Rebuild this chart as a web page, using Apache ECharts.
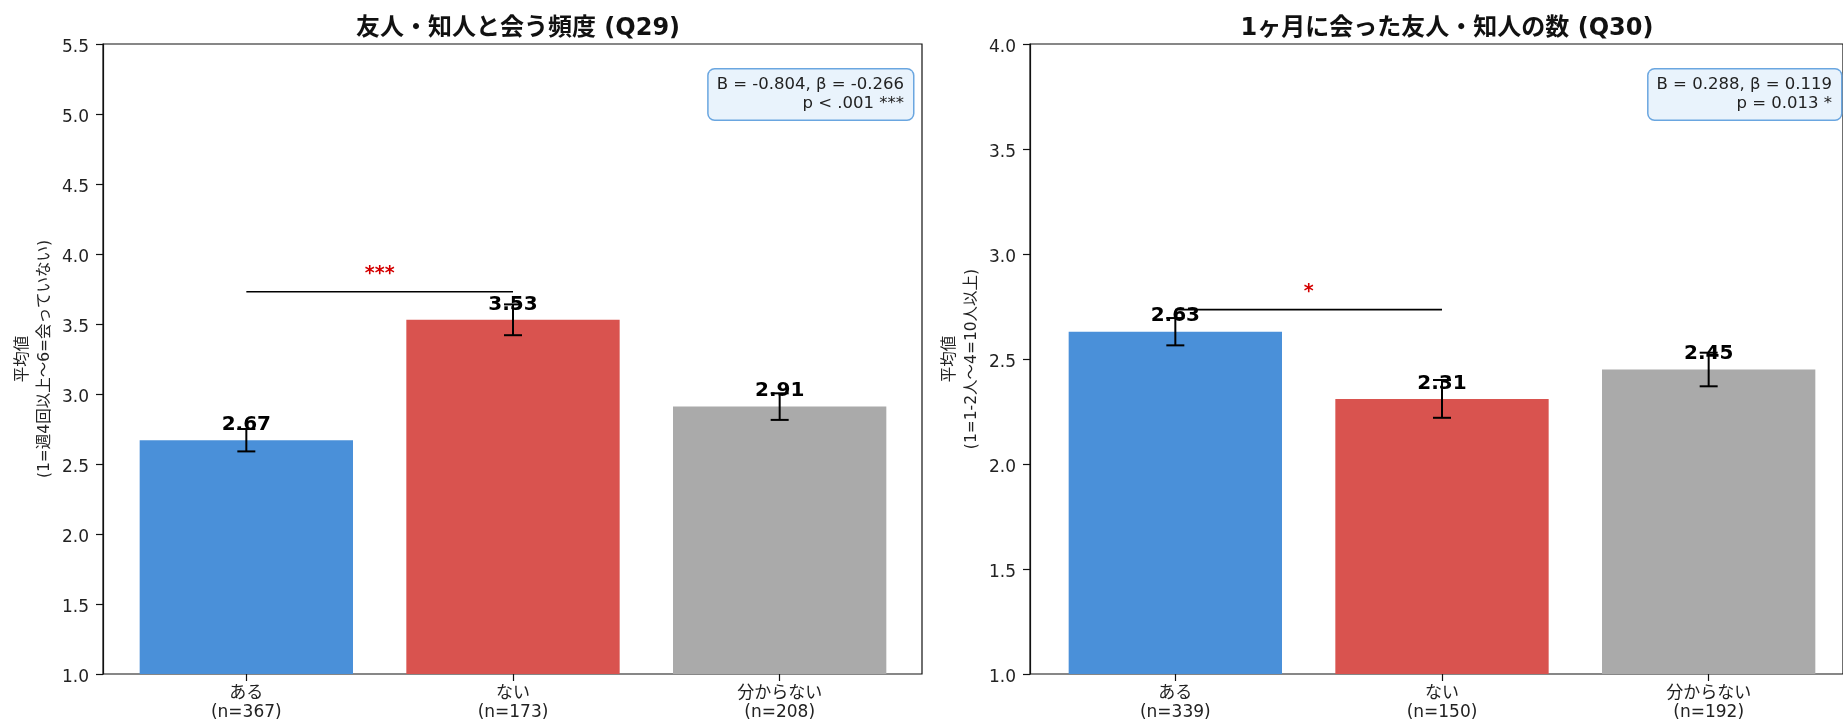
<!DOCTYPE html>
<html>
<head>
<meta charset="utf-8">
<script src="https://cdn.jsdelivr.net/npm/echarts@6/dist/echarts.min.js"></script>
<style>
  html, body { margin: 0; padding: 0; background: #fff; }
  #chart { width: 1843px; height: 726px; }
</style>
</head>
<body>
<div id="chart"></div>
<script>
// Response groups and sample sizes
const categories = ['ある', 'ない', '分からない'];
const countsQ29 = [367, 173, 208];
const countsQ30 = [339, 150, 192];

// Group means and standard errors
const meansQ29 = [2.67, 3.53, 2.91];
const errorsQ29 = [0.08, 0.11, 0.095];
const meansQ30 = [2.63, 2.31, 2.45];
const errorsQ30 = [0.065, 0.09, 0.08];

// Panel texts
const titles = ['友人・知人と会う頻度 (Q29)', '1ヶ月に会った友人・知人の数 (Q30)'];
const yNames = ['平均値\n(1=週4回以上〜6=会っていない)', '平均値\n(1=1-2人〜4=10人以上)'];
const yRanges = [[1, 5.5], [1, 4]];
const yTickStep = 0.5;
const statLines = [
  ['B = -0.804, β = -0.266', 'p < .001 ***'],
  ['B = 0.288, β = 0.119', 'p = 0.013 *']
];
// Significance bracket between groups: [from index, to index, height]
const bracketQ29 = [0, 1, 3.73];
const bracketQ30 = [0, 1, 2.735];
const bracketMarks = ['***', '*'];

const barColors = ['#4a90d9', '#d9534f', '#aaaaaa'];
const FONT = "'DejaVu Sans', 'Noto Sans CJK JP', sans-serif";

const panels = [
  { means: meansQ29, errors: errorsQ29, counts: countsQ29, bracket: bracketQ29,
    frameLeft: 103, frameWidth: 819, dataLeft: 113, dataWidth: 800 },
  { means: meansQ30, errors: errorsQ30, counts: countsQ30, bracket: bracketQ30,
    frameLeft: 1030, frameWidth: 820, dataLeft: 1042, dataWidth: 800 }
];
const TOP = 44, HEIGHT = 630;

const grid = [], xAxis = [], yAxis = [], series = [], title = [], graphic = [];

panels.forEach((p, k) => {
  const fIdx = grid.length;
  // Frame grid: box outline, y ticks and labels
  grid.push({ left: p.frameLeft, top: TOP, width: p.frameWidth, height: HEIGHT,
    show: true, borderColor: '#111', borderWidth: 1.2, backgroundColor: 'transparent' });
  const dIdx = grid.length;
  // Data grid: bars laid out on the category bands
  grid.push({ left: p.dataLeft, top: TOP, width: p.dataWidth, height: HEIGHT });

  xAxis.push({ gridIndex: fIdx, type: 'value', show: false, min: 0, max: 1 });
  xAxis.push({
    gridIndex: dIdx, type: 'category',
    data: categories.map((c, i) => c + '\n(n=' + p.counts[i] + ')'),
    axisLine: { show: false },
    axisTick: { show: true, alignWithLabel: true, length: 7, lineStyle: { color: '#111', width: 1.2 } },
    axisLabel: { margin: 10, fontSize: 17, lineHeight: 19, color: '#222', fontFamily: FONT }
  });

  yAxis.push({
    gridIndex: fIdx, type: 'value', min: yRanges[k][0], max: yRanges[k][1], interval: yTickStep,
    name: yNames[k], nameLocation: 'middle', nameRotate: 90, nameGap: 47,
    nameTextStyle: { fontSize: 15.5, lineHeight: 22, color: '#222', fontFamily: FONT },
    axisLine: { show: true, lineStyle: { color: '#111', width: 1.2 } },
    axisTick: { show: true, length: 7, lineStyle: { color: '#111', width: 1.2 } },
    splitLine: { show: false },
    axisLabel: { margin: 14, color: '#222',
      formatter: v => '{t|' + v.toFixed(1) + '}',
      rich: { t: { fontSize: 17, fontFamily: FONT, color: '#222', padding: [7, 0, 0, 0] } } }
  });
  yAxis.push({
    gridIndex: dIdx, type: 'value', min: yRanges[k][0], max: yRanges[k][1], interval: yTickStep,
    show: false, splitLine: { show: false }
  });

  const xi = xAxis.length - 1, yi = yAxis.length - 1;

  // Mean bars with value labels
  series.push({
    type: 'bar', xAxisIndex: xi, yAxisIndex: yi, barWidth: '80%',
    data: p.means.map((m, i) => ({ value: m, itemStyle: { color: barColors[i] } })),
    label: { show: true, position: 'top', distance: 3.5, fontSize: 20, fontWeight: 'bold',
      lineHeight: 24, color: '#000', fontFamily: FONT, formatter: d => d.value.toFixed(2) },
    z: 2
  });

  // Standard error whiskers
  series.push({
    type: 'custom', xAxisIndex: xi, yAxisIndex: yi, z: 3,
    data: p.means.map((m, i) => [i, m - p.errors[i], m + p.errors[i]]),
    encode: { x: 0, y: [1, 2] },
    renderItem: (params, api) => {
      const lo = api.coord([api.value(0), api.value(1)]);
      const hi = api.coord([api.value(0), api.value(2)]);
      const cap = 9;
      const st = { stroke: '#000', lineWidth: 2 };
      return { type: 'group', children: [
        { type: 'line', shape: { x1: lo[0], y1: lo[1], x2: hi[0], y2: hi[1] }, style: st },
        { type: 'line', shape: { x1: lo[0] - cap, y1: lo[1], x2: lo[0] + cap, y2: lo[1] }, style: st },
        { type: 'line', shape: { x1: hi[0] - cap, y1: hi[1], x2: hi[0] + cap, y2: hi[1] }, style: st }
      ]};
    }
  });

  // Significance bracket line and stars
  series.push({
    type: 'custom', xAxisIndex: xi, yAxisIndex: yi, z: 4,
    data: [p.bracket],
    encode: { x: [0, 1], y: 2 },
    renderItem: (params, api) => {
      const a = api.coord([api.value(0), api.value(2)]);
      const b = api.coord([api.value(1), api.value(2)]);
      return { type: 'group', children: [
        { type: 'line', shape: { x1: a[0], y1: a[1], x2: b[0], y2: b[1] },
          style: { stroke: '#000', lineWidth: 1.6 } },
        { type: 'text', style: { text: bracketMarks[k], x: (a[0] + b[0]) / 2, y: a[1] - 17.5,
          align: 'center', verticalAlign: 'middle', fill: '#d40000',
          font: 'bold 19px ' + FONT } }
      ]};
    }
  });

  title.push({
    text: titles[k], left: p.dataLeft + p.dataWidth / 2, top: 12, textAlign: 'center',
    textStyle: { fontSize: 24, fontWeight: 'bold', color: '#111', fontFamily: FONT }
  });

  // Regression statistics box
  graphic.push({
    type: 'text', x: p.frameLeft + p.frameWidth - 9, y: 69.5, z: 10,
    style: {
      text: statLines[k].join('\n'), align: 'right', verticalAlign: 'top',
      font: '16.5px ' + FONT, fill: '#222', lineHeight: 19,
      backgroundColor: '#e9f3fc', borderColor: '#6aa6e0', borderWidth: 1.5, borderRadius: 6,
      padding: [6, 9, 6, 8]
    }
  });
});

const chart = echarts.init(document.getElementById('chart'), null, { renderer: 'canvas' });
chart.setOption({
  backgroundColor: '#fff',
  animation: false,
  title, grid, xAxis, yAxis, series, graphic
});
</script>
</body>
</html>
